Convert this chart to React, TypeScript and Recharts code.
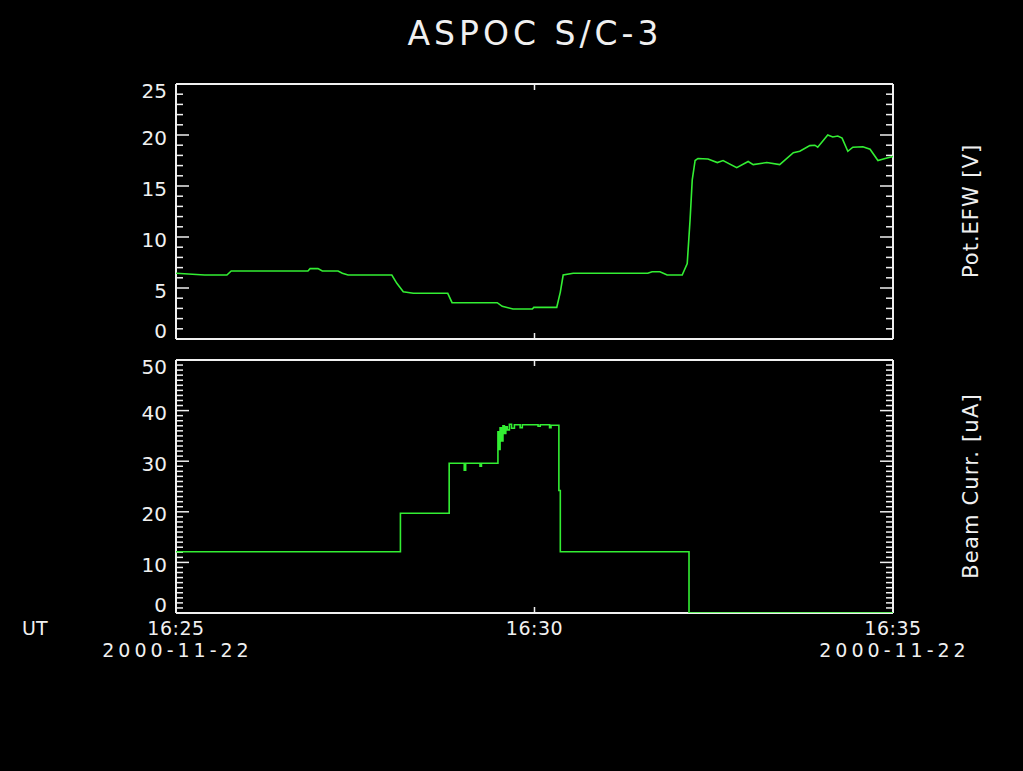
import React from "react";
import { LineChart, Line, XAxis, YAxis } from "recharts";

// ---- data (minutes after 16:25 UT, 2000-11-22) ----
const potTimes = [0, 0.4, 0.71, 0.77, 1.84, 1.87, 1.98, 2.04, 2.26, 2.32, 2.4, 3.01, 3.08, 3.17, 3.31, 3.79, 3.85, 4.48, 4.55, 4.7, 4.97, 4.99, 5.31, 5.36, 5.4, 5.54, 6.58, 6.64, 6.75, 6.85, 7.06, 7.13, 7.17, 7.2, 7.24, 7.28, 7.42, 7.55, 7.63, 7.82, 7.98, 8.05, 8.24, 8.42, 8.61, 8.7, 8.84, 8.91, 8.95, 9.09, 9.16, 9.23, 9.29, 9.37, 9.44, 9.58, 9.68, 9.79, 9.89, 10];
const potValues = [6.44, 6.27, 6.27, 6.67, 6.67, 6.9, 6.9, 6.67, 6.67, 6.44, 6.27, 6.27, 5.46, 4.64, 4.48, 4.48, 3.56, 3.56, 3.2, 2.94, 2.94, 3.1, 3.1, 4.6, 6.27, 6.44, 6.44, 6.6, 6.6, 6.27, 6.27, 7.4, 11.7, 15.6, 17.5, 17.7, 17.65, 17.3, 17.5, 16.8, 17.4, 17.1, 17.3, 17.1, 18.27, 18.4, 18.96, 19.0, 18.8, 20.0, 19.8, 19.9, 19.7, 18.4, 18.8, 18.85, 18.6, 17.5, 17.7, 17.9];

const beamTimes = [0, 3.13, 3.81, 4.02, 4.04, 4.24, 4.26, 4.49, 4.5, 4.52, 4.54, 4.56, 4.58, 4.6, 4.62, 4.65, 4.68, 4.72, 4.8, 4.83, 5.05, 5.08, 5.21, 5.23, 5.34, 5.36, 7.155, 10];
const beamValues = [12.1, 19.7, 29.6, 28.2, 29.6, 29.0, 29.6, 35.8, 32.3, 36.6, 34.0, 37.0, 35.5, 36.8, 36.2, 37.3, 36.5, 37.2, 36.6, 37.2, 36.9, 37.2, 36.6, 37.1, 24.2, 12.1, 0, 0];

const xTicks = [0, 5, 10];
const xTickLabels = ["16:25", "16:30", "16:35"];
const dateLabel = "2000-11-22";
const potTicks = Array.from({ length: 26 }, (_, i) => i);
const beamTicks = Array.from({ length: 51 }, (_, i) => i);

const potData = potTimes.map((t, i) => ({ t, v: potValues[i] }));
const beamData = beamTimes.map((t, i) => ({ t, v: beamValues[i] }));

const FONT = "'DejaVu Sans', sans-serif";
const WHITE = "#f0f0f0";
const GREEN = "#33ee33";

function makeLeftTick(major: number, max: number) {
  return (props: any) => {
    const { x, y, payload } = props;
    const v = payload.value;
    const isMajor = v % major === 0;
    const dy = v === max ? 7 : v === 0 ? -8 : 2.5;
    return (
      <g>
        <line x1={x} x2={x + (isMajor ? 13 : 7)} y1={y} y2={y} stroke={WHITE} strokeWidth={1.5} />
        {isMajor && (
          <text x={x - 9} y={y + dy} textAnchor="end" dominantBaseline="central" fill={WHITE} fontSize={20} fontFamily={FONT}>
            {v}
          </text>
        )}
      </g>
    );
  };
}

function makeRightTick(major: number) {
  return (props: any) => {
    const { x, y, payload } = props;
    const isMajor = payload.value % major === 0;
    return <line x1={x} x2={x - (isMajor ? 13 : 7)} y1={y} y2={y} stroke={WHITE} strokeWidth={1.5} />;
  };
}

const TopXTick = (props: any) => {
  const { x, y } = props;
  return <line x1={x} x2={x} y1={y} y2={y + 6} stroke={WHITE} strokeWidth={1.5} />;
};

const BottomXTickPlain = (props: any) => {
  const { x, y } = props;
  return <line x1={x} x2={x} y1={y} y2={y - 6} stroke={WHITE} strokeWidth={1.5} />;
};

const BottomXTickLabeled = (props: any) => {
  const { x, y, payload } = props;
  const v = payload.value;
  const idx = xTicks.indexOf(v);
  const isEnd = v === xTicks[0] || v === xTicks[xTicks.length - 1];
  return (
    <g>
      {!isEnd && <line x1={x} x2={x} y1={y} y2={y - 6} stroke={WHITE} strokeWidth={1.5} />}
      <text x={x} y={y + 15} textAnchor="middle" dominantBaseline="central" fill={WHITE} fontSize={19} fontFamily={FONT} letterSpacing={0.5}>
        {xTickLabels[idx]}
      </text>
      {isEnd && (
        <text x={x + 1.5} y={y + 37} textAnchor="middle" dominantBaseline="central" fill={WHITE} fontSize={19} fontFamily={FONT} letterSpacing={4}>
          {dateLabel}
        </text>
      )}
    </g>
  );
};

const axisLine = { stroke: WHITE, strokeWidth: 2 };

type PanelProps = {
  data: { t: number; v: number }[];
  height: number;
  top: number;
  bottom: number;
  yMax: number;
  yTicks: number[];
  major: number;
  labeled: boolean;
  step: boolean;
};

function Panel({ data, height, top, bottom, yMax, yTicks, major, labeled, step }: PanelProps) {
  return (
    <>
      {/* frame, ticks and labels */}
      <div style={{ position: "absolute", left: 0, top: 0 }}>
        <LineChart width={1023} height={height} data={data} margin={{ top: top - 1, left: 175, right: 129, bottom: bottom - 1 }}>
          <XAxis dataKey="t" type="number" domain={[0, 10]} ticks={labeled ? xTicks : [5]} height={1} tickSize={0} tickMargin={0} tickLine={false} axisLine={axisLine} tick={labeled ? BottomXTickLabeled : BottomXTickPlain} interval={0} allowDataOverflow />
          <XAxis xAxisId="top" dataKey="t" orientation="top" type="number" domain={[0, 10]} ticks={[5]} height={1} tickSize={0} tickMargin={0} tickLine={false} axisLine={axisLine} tick={TopXTick} interval={0} allowDataOverflow />
          <YAxis type="number" domain={[0, yMax]} ticks={yTicks} width={1} tickSize={0} tickMargin={0} tickLine={false} axisLine={axisLine} tick={makeLeftTick(major, yMax)} interval={0} allowDataOverflow />
          <YAxis yAxisId="right" orientation="right" type="number" domain={[0, yMax]} ticks={yTicks} width={1} tickSize={0} tickMargin={0} tickLine={false} axisLine={axisLine} tick={makeRightTick(major)} interval={0} allowDataOverflow />
        </LineChart>
      </div>
      {/* data trace drawn over the frame */}
      <div style={{ position: "absolute", left: 0, top: 0 }}>
        <LineChart width={1023} height={height} data={data} margin={{ top, left: 176, right: 130, bottom }}>
          <XAxis dataKey="t" type="number" domain={[0, 10]} hide allowDataOverflow />
          <YAxis type="number" domain={[0, yMax]} hide allowDataOverflow />
          <Line type={step ? "stepAfter" : "linear"} dataKey="v" stroke={GREEN} strokeWidth={1.6} dot={false} isAnimationActive={false} />
        </LineChart>
      </div>
    </>
  );
}

export default function App() {
  return (
    <div style={{ position: "absolute", left: 0, top: 0, width: 1023, height: 771, background: "#000", overflow: "hidden" }}>
      <svg width={1023} height={771} style={{ position: "absolute", left: 0, top: 0 }}>
        <text x={535} y={45} textAnchor="middle" fill={WHITE} fontSize={33} fontFamily={FONT} letterSpacing={4}>
          ASPOC S/C-3
        </text>
        <text transform="translate(971,211) rotate(-90)" textAnchor="middle" dominantBaseline="central" fill={WHITE} fontSize={21} fontFamily={FONT} letterSpacing={1}>
          Pot.EFW [V]
        </text>
        <text transform="translate(971,486) rotate(-90)" textAnchor="middle" dominantBaseline="central" fill={WHITE} fontSize={21} fontFamily={FONT} letterSpacing={1.2}>
          Beam Curr. [uA]
        </text>
        <text x={22} y={628} dominantBaseline="central" fill={WHITE} fontSize={19} fontFamily={FONT}>
          UT
        </text>
      </svg>

      <Panel data={potData} height={360} top={84} bottom={21} yMax={25} yTicks={potTicks} major={5} labeled={false} step={false} />
      <Panel data={beamData} height={700} top={360} bottom={87} yMax={50} yTicks={beamTicks} major={10} labeled={true} step={true} />
    </div>
  );
}
